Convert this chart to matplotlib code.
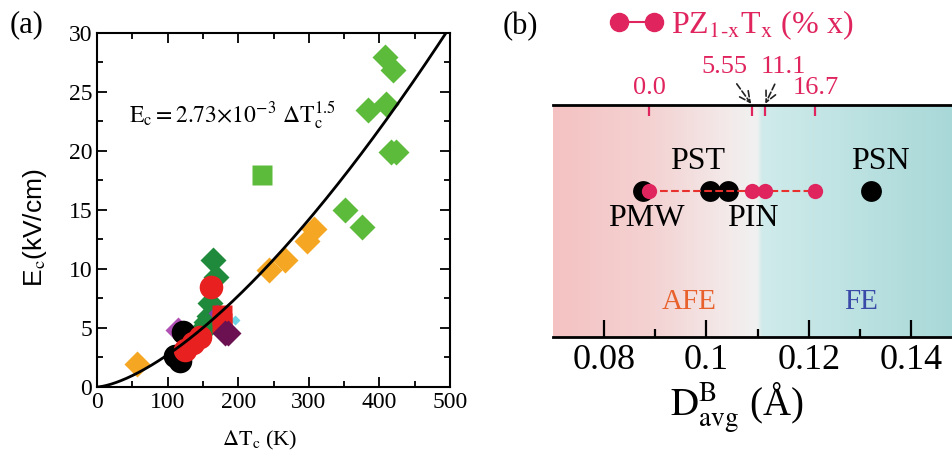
import numpy as np
import matplotlib
matplotlib.use('Agg')
import matplotlib.pyplot as plt
from matplotlib.colors import LinearSegmentedColormap
from matplotlib.lines import Line2D

plt.rcParams['font.family'] = ['Liberation Serif', 'DejaVu Serif']
plt.rcParams['mathtext.fontset'] = 'stix'

# ---- panel (a) data: (dTc [K], Ec [kV/cm]) per group ----
lgreen_d_x = [408, 419, 410, 384, 416, 424, 351, 375]
lgreen_d_y = [28.0, 26.9, 24.0, 23.5, 19.95, 19.95, 15.0, 13.6]
lgreen_s_x = [233]
lgreen_s_y = [18.0]
orange_x = [57, 243, 266, 298, 307]
orange_y = [1.98, 9.9, 10.75, 12.4, 13.4]
dgreen_x = [165, 169, 160, 158, 151, 155, 148]
dgreen_y = [10.8, 9.3, 7.1, 6.0, 5.1, 5.5, 4.6]
black_x = [122, 110, 118]
black_y = [4.7, 2.6, 2.2]
magenta_x = [115]
magenta_y = [4.8]
red_c_x = [162, 146, 136, 125]
red_c_y = [8.5, 4.25, 3.7, 3.1]
red_s_x = [177, 177]
red_s_y = [6.1, 5.4]
purple_x = [170]
purple_y = [6.3]
dpurple_x = [181, 186]
dpurple_y = [4.6, 4.6]
cyan_x = [195]
cyan_y = [5.7]
fit_coef = 2.73e-3
fit_exp = 1.5

# ---- panel (b) data ----
d_black = [0.0875, 0.1007, 0.1043, 0.1322]
d_pzt = [0.0888, 0.1089, 0.1114, 0.1213]
pzt_labels = ['0.0', '5.55', '11.1', '16.7']
row_y = 0.63

pink = '#e0245e'

fig = plt.figure(figsize=(9.52, 4.53), dpi=100)

# ================= (a) =================
ax = fig.add_axes([0.1019, 0.1457, 0.3708, 0.7815])
ms_d = 13
ax.plot(lgreen_d_x, lgreen_d_y, 'D', color='#5dbb3c', ms=ms_d, mec='none')
ax.plot(lgreen_s_x, lgreen_s_y, 's', color='#5dbb3c', ms=15, mec='none')
ax.plot(orange_x, orange_y, 'D', color='#f5a623', ms=ms_d, mec='none')
ax.plot(dgreen_x, dgreen_y, 'D', color='#1f8a3b', ms=ms_d, mec='none')
ax.plot(cyan_x, cyan_y, 'D', color='#6fd3e6', ms=5, mec='none')
ax.plot(magenta_x, magenta_y, 'D', color='#b04fb4', ms=ms_d, mec='none')
ax.plot(black_x, black_y, 'o', color='black', ms=17, mec='none')
ax.plot(purple_x, purple_y, 'D', color='#7e3fa8', ms=9, mec='none')
ax.plot(red_s_x, red_s_y, 's', color='#e82020', ms=15, mec='none')
ax.plot(dpurple_x, dpurple_y, 'D', color='#6b1050', ms=ms_d, mec='none')
ax.plot(red_c_x, red_c_y, 'o', color='#e82020', ms=17, mec='none')

xf = np.linspace(0, 500, 300)
ax.plot(xf, fit_coef * xf ** fit_exp, color='black', lw=2)

ax.set_xlim(0, 500)
ax.set_ylim(0, 30)
ax.set_xticks(np.arange(0, 501, 100))
ax.set_xticks(np.arange(0, 501, 50), minor=True)
ax.set_yticks(np.arange(0, 31, 5))
ax.set_yticks(np.arange(0, 31, 2.5), minor=True)
ax.tick_params(which='both', direction='in', top=True, right=True, width=1.3, labelsize=17)
ax.tick_params(which='major', length=7)
ax.tick_params(which='minor', length=4)
for s in ax.spines.values():
    s.set_linewidth(1.5)
ax.text(46, 22.4, r'$\mathrm{E_c = 2.73{\times}10^{-3}\ \Delta T_c^{1.5}}$', fontsize=17)
ax.set_xlabel(r'$\mathrm{\Delta T_c}$ (K)', fontsize=16)
ax.xaxis.set_label_coords(0.46, -0.118)
ax.set_ylabel(r'E$_{\rm c}$(kV/cm)', fontsize=19, family='Liberation Sans')
ax.yaxis.set_label_coords(-0.135, 0.45)
fig.text(27 / 952, 1 - 25 / 453, '(a)', fontsize=22, ha='center', va='center')

# ================= (b) =================
ax2 = fig.add_axes([553 / 952, 116 / 453, 1 - 553 / 952, 232 / 453])
xmin, xmax = 0.07, 0.148
xs = np.linspace(xmin, xmax, 800)
stops = [(0.0, '#f5c2c2'), ((0.09 - xmin) / (xmax - xmin), '#f4d3d3'),
         ((0.105 - xmin) / (xmax - xmin), '#f3ebeb'),
         ((0.1100 - xmin) / (xmax - xmin), '#f1f1f1'),
         ((0.1108 - xmin) / (xmax - xmin), '#d0ebeb'),
         (1.0, '#a9d8d8')]
cmap = LinearSegmentedColormap.from_list('bg', stops)
ax2.imshow(xs[None, :], extent=[xmin, xmax, 0, 1], aspect='auto', cmap=cmap,
           vmin=xmin, vmax=xmax, zorder=0)

ax2.plot(d_black, [row_y] * len(d_black), 'o', color='black', ms=15, mec='none', zorder=3)
ax2.plot(d_pzt, [row_y] * len(d_pzt), '--', color='#e8302c', lw=1.5, zorder=4)
ax2.plot(d_pzt, [row_y] * len(d_pzt), 'o', color=pink, ms=11, mec='none', zorder=5)

lab_kw = dict(fontsize=23, ha='center', va='center')
ax2.text(0.0982, 0.755, 'PST', **lab_kw)
ax2.text(0.1340, 0.755, 'PSN', **lab_kw)
ax2.text(0.0882, 0.51, 'PMW', **lab_kw)
ax2.text(0.1090, 0.51, 'PIN', **lab_kw)
ax2.text(0.0966, 0.152, 'AFE', color='#e8612c', fontsize=21, ha='center', va='center')
ax2.text(0.1303, 0.152, 'FE', color='#3a4aa8', fontsize=21, ha='center', va='center')

ax2.set_xlim(xmin, xmax)
ax2.set_ylim(0, 1)
ax2.set_yticks([])
ax2.spines['left'].set_visible(False)
ax2.spines['right'].set_visible(False)
ax2.spines['top'].set_linewidth(2)
ax2.spines['bottom'].set_linewidth(2)
ax2.set_xticks([0.08, 0.10, 0.12, 0.14])
ax2.set_xticklabels(['0.08', '0.1', '0.12', '0.14'])
ax2.set_xticks([0.09, 0.11, 0.13], minor=True)
ax2.tick_params(axis='x', which='both', direction='in', width=1.6, labelsize=26, pad=5)
ax2.tick_params(axis='x', which='major', length=12)
ax2.tick_params(axis='x', which='minor', length=6)
ax2.set_xlabel(r'$\mathrm{D^{B}_{avg}}$ (Å)', fontsize=28)
ax2.xaxis.set_label_coords(0.46, -0.19)

top = ax2.secondary_xaxis('top')
top.set_xticks(d_pzt)
top.set_xticklabels([pzt_labels[0], '', '', pzt_labels[3]])
top.tick_params(direction='in', length=8, width=1.6, colors=pink, labelsize=19, pad=4)
top.spines['top'].set_visible(False)

blend = ax2.get_xaxis_transform()
ann_kw = dict(xycoords=blend, textcoords=blend,
              color=pink, fontsize=19, ha='center', va='center',
              arrowprops=dict(arrowstyle='->', linestyle='--', color='#222222', lw=1.2,
                              shrinkA=3, shrinkB=1))
ax2.annotate(pzt_labels[1], xy=(d_pzt[1], 1.0), xytext=(0.1035, 1.165),
             annotation_clip=False, **ann_kw)
ax2.annotate(pzt_labels[2], xy=(d_pzt[2], 1.0), xytext=(0.1150, 1.165),
             annotation_clip=False, **ann_kw)

handle = Line2D([], [], color=pink, marker='o', ms=13, ls='-', lw=1.5)
fig.legend([handle], [r'PZ$_{\mathrm{1\text{-}x}}$T$_{\rm x}$ (% x)'],
           loc='center left', bbox_to_anchor=(609 / 952, 1 - 25 / 453),
           frameon=False, numpoints=2, handlelength=1.7, handletextpad=0.25,
           fontsize=23, labelcolor=pink, borderaxespad=0, borderpad=0)
fig.text(520 / 952, 1 - 27 / 453, '(b)', fontsize=22, ha='center', va='center')

fig.savefig('out.png', dpi=100)
